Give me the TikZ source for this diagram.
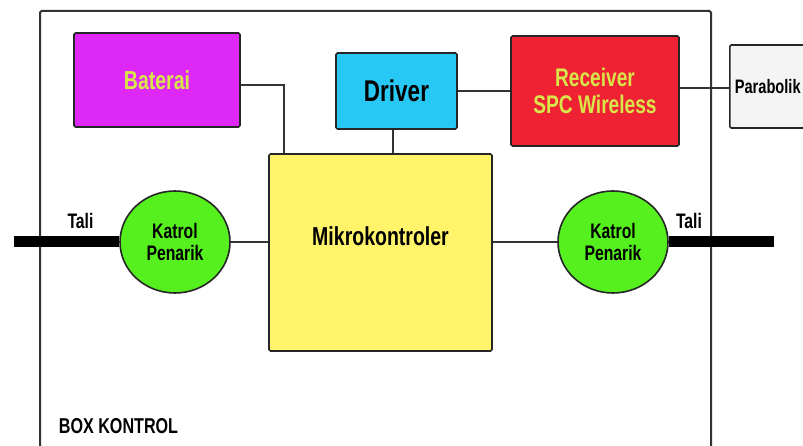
\documentclass[tikz,border=0pt]{standalone}
\usepackage{fontspec}
\setmainfont{Liberation Sans}
\newfontfamily\blockfont[FakeStretch=0.75]{Liberation Sans Bold}
\usetikzlibrary{positioning, calc, shapes.geometric}

\definecolor{batmagenta}{RGB}{221,40,248}
\definecolor{drvcyan}{RGB}{40,200,245}
\definecolor{rcvred}{RGB}{238,34,51}
\definecolor{mcuyellow}{RGB}{255,244,106}
\definecolor{pulleygreen}{RGB}{85,240,30}
\definecolor{paragray}{RGB}{244,244,244}
\definecolor{labelyellow}{RGB}{216,230,74}

\begin{document}
\begin{tikzpicture}[
    x=1pt, y=1pt,
    block/.style={draw=black!85, line width=1.6pt, rectangle, rounded corners=1.5pt}, % Style for the boxes
    pulley/.style={draw=black!85, line width=1.6pt, ellipse, fill=pulleygreen,
        minimum width=110pt, minimum height=102pt, align=center,
        font=\blockfont\fontsize{21}{22}\selectfont}, % Style for the pulleys
    wire/.style={line width=1.5pt, black!80}, % Style for the connecting lines
    rope/.style={line width=11pt, black} % Style for the ropes
]
    \clip (0,0) rectangle (803,445);
    \fill[white] (0,0) rectangle (803,445);

    % === Box Kontrol frame ===
    \draw[line width=2pt, black!80, rounded corners=1.5pt] (40,-20) rectangle (711,434);
    \node[font=\blockfont\fontsize{21.5}{22}\selectfont] (box_label) at (118.5,19) {BOX KONTROL};

    % ====== TOP ROW ======
    \node[block, fill=batmagenta, minimum width=166pt, minimum height=94pt,
        font=\blockfont\fontsize{26}{28}\selectfont, text=labelyellow] (bat) at (157,365) {Baterai};
    \node[block, fill=drvcyan, minimum width=121pt, minimum height=76pt,
        font=\blockfont\fontsize{30}{30}\selectfont] (drv) at (396.5,354) {Driver};
    \node[block, fill=rcvred, minimum width=168pt, minimum height=110pt, align=center,
        font=\blockfont\fontsize{25.5}{27}\selectfont, text=labelyellow] (rcv) at (595,354) {Receiver\\SPC Wireless};
    \node[block, fill=paragray, anchor=west, minimum height=83pt, text width=118pt,
        inner xsep=5pt, align=left, font=\blockfont\fontsize{19.5}{22}\selectfont] (para) at (729,358.5) {Parabolik};

    % ====== MIDDLE ROW ======
    \node[block, fill=mcuyellow, minimum width=223pt, minimum height=197pt] (mcu) at (380.5,192.5) {};
    \node[font=\blockfont\fontsize{26}{28}\selectfont] (mcu_text) at (380.5,209) {Mikrokontroler};

    \node[pulley] (katrol_l) at (175,203) {Katrol\\Penarik};
    \node[pulley] (katrol_r) at (613,203) {Katrol\\Penarik};

    % Ropes
    \coordinate (rope_l_end) at (14,203);
    \coordinate (rope_r_end) at (774,203);
    \draw[rope] (rope_l_end) -- (katrol_l.west);
    \draw[rope] (katrol_r.east) -- (rope_r_end);
    \node[font=\blockfont\fontsize{21}{22}\selectfont] (tali_l) at (80.5,224) {Tali};
    \node[font=\blockfont\fontsize{21}{22}\selectfont] (tali_r) at (689,224) {Tali};

    % ====== CONNECTIONS ======
    \draw[wire] ([yshift=-5pt]bat.east) -| ([xshift=16pt]mcu.north west);
    \draw[wire] ([xshift=-3.5pt]drv.south) -- ([xshift=-3.5pt]drv.south |- mcu.north);
    \draw[wire] (drv.east) -- (rcv.west);
    \draw[wire] ([yshift=3pt]rcv.east) -- ([yshift=3pt]rcv.east -| para.west);
    \draw[wire] (katrol_l.east) -- (katrol_l.east -| mcu.west);
    \draw[wire] (katrol_r.west) -- (katrol_r.west -| mcu.east);

\end{tikzpicture}
\end{document}
